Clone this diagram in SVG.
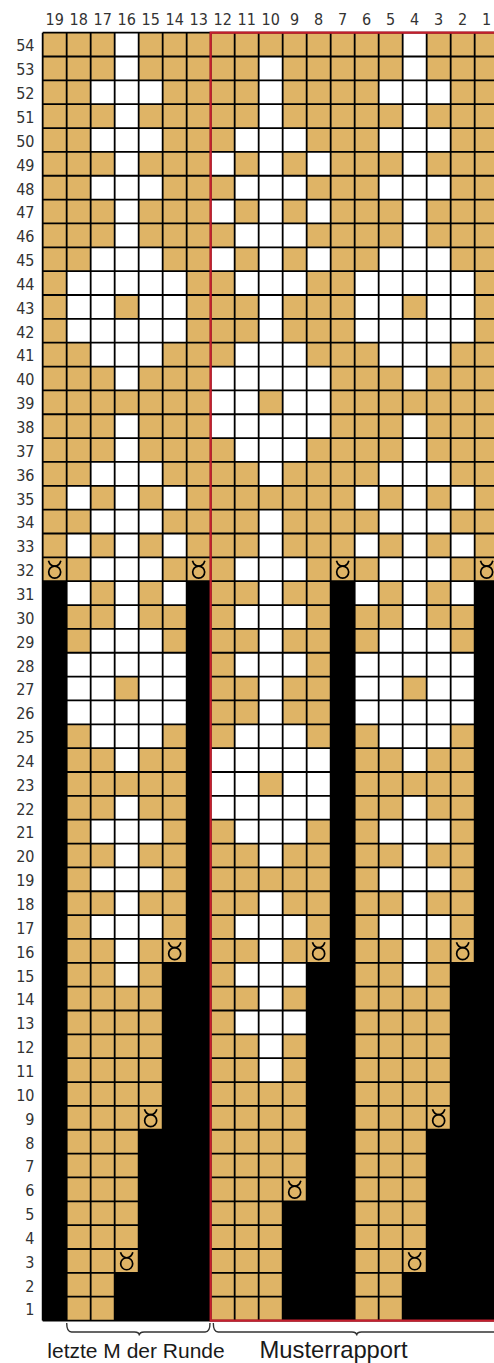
<svg xmlns="http://www.w3.org/2000/svg" xmlns:xlink="http://www.w3.org/1999/xlink" width="494" height="1363" viewBox="0 0 494 1363">
<style>
.lbl{font-family:"DejaVu Sans Condensed","DejaVu Sans",sans-serif;font-size:16px;fill:#333}
.cl{text-anchor:middle}
.rl{text-anchor:end}
.cap{font-family:"Liberation Sans",Arial,sans-serif;fill:#1a1a1a}
.gold{fill:#DFB466}
.wh{fill:#fff}
.blk{fill:#000}
.ln{fill:none;stroke:#000;stroke-width:1.8}
.red{fill:none;stroke:#C51F2E;stroke-width:2.2}
.brace{fill:none;stroke:#333;stroke-width:1.4}
.sym{fill:none;stroke:#000;stroke-width:1.7}
</style>
<defs>
<g id="m1" class="sym"><circle cx="0" cy="2.8" r="6"/><path d="M-6.2,-8.6 Q-4.6,-3.4 0,-3.2 Q4.6,-3.4 6.2,-8.6"/></g>
</defs>
<g id="col-labels" class="lbl cl">
<text x="54.67" y="24.5">19</text><text x="78.67" y="24.5">18</text><text x="102.67" y="24.5">17</text><text x="126.67" y="24.5">16</text><text x="150.67" y="24.5">15</text><text x="174.67" y="24.5">14</text><text x="198.67" y="24.5">13</text><text x="222.67" y="24.5">12</text><text x="246.67" y="24.5">11</text><text x="270.67" y="24.5">10</text><text x="294.67" y="24.5">9</text><text x="318.67" y="24.5">8</text><text x="342.67" y="24.5">7</text><text x="366.67" y="24.5">6</text><text x="390.67" y="24.5">5</text><text x="414.67" y="24.5">4</text><text x="438.67" y="24.5">3</text><text x="462.67" y="24.5">2</text><text x="486.67" y="24.5">1</text>
</g>
<g id="row-labels" class="lbl rl">
<text x="34.5" y="51.4">54</text><text x="34.5" y="75.25">53</text><text x="34.5" y="99.1">52</text><text x="34.5" y="122.95">51</text><text x="34.5" y="146.8">50</text><text x="34.5" y="170.65">49</text><text x="34.5" y="194.5">48</text><text x="34.5" y="218.35">47</text><text x="34.5" y="242.2">46</text><text x="34.5" y="266.05">45</text><text x="34.5" y="289.9">44</text><text x="34.5" y="313.75">43</text><text x="34.5" y="337.6">42</text><text x="34.5" y="361.45">41</text><text x="34.5" y="385.3">40</text><text x="34.5" y="409.15">39</text><text x="34.5" y="433">38</text><text x="34.5" y="456.85">37</text><text x="34.5" y="480.7">36</text><text x="34.5" y="504.55">35</text><text x="34.5" y="528.4">34</text><text x="34.5" y="552.25">33</text><text x="34.5" y="576.1">32</text><text x="34.5" y="599.95">31</text><text x="34.5" y="623.8">30</text><text x="34.5" y="647.65">29</text><text x="34.5" y="671.5">28</text><text x="34.5" y="695.35">27</text><text x="34.5" y="719.2">26</text><text x="34.5" y="743.05">25</text><text x="34.5" y="766.9">24</text><text x="34.5" y="790.75">23</text><text x="34.5" y="814.6">22</text><text x="34.5" y="838.45">21</text><text x="34.5" y="862.3">20</text><text x="34.5" y="886.15">19</text><text x="34.5" y="910">18</text><text x="34.5" y="933.85">17</text><text x="34.5" y="957.7">16</text><text x="34.5" y="981.55">15</text><text x="34.5" y="1005.4">14</text><text x="34.5" y="1029.25">13</text><text x="34.5" y="1053.1">12</text><text x="34.5" y="1076.95">11</text><text x="34.5" y="1100.8">10</text><text x="34.5" y="1124.65">9</text><text x="34.5" y="1148.5">8</text><text x="34.5" y="1172.35">7</text><text x="34.5" y="1196.2">6</text><text x="34.5" y="1220.05">5</text><text x="34.5" y="1243.9">4</text><text x="34.5" y="1267.75">3</text><text x="34.5" y="1291.6">2</text><text x="34.5" y="1315.45">1</text>
</g>
<g id="chart" transform="translate(42.67 32.67) scale(24 23.85)">
<rect id="background" class="gold" x="0" y="0" width="19" height="54"/>
<g id="white-cells" class="wh">
<rect x="3" y="0" width="1" height="1"/><rect x="15" y="0" width="1" height="1"/>
<rect x="3" y="1" width="1" height="1"/><rect x="9" y="1" width="1" height="1"/><rect x="15" y="1" width="1" height="1"/>
<rect x="2" y="2" width="3" height="1"/><rect x="9" y="2" width="1" height="1"/><rect x="14" y="2" width="3" height="1"/>
<rect x="3" y="3" width="1" height="1"/><rect x="9" y="3" width="1" height="1"/><rect x="15" y="3" width="1" height="1"/>
<rect x="2" y="4" width="3" height="1"/><rect x="8" y="4" width="3" height="1"/><rect x="14" y="4" width="3" height="1"/>
<rect x="3" y="5" width="1" height="1"/><rect x="7" y="5" width="1" height="1"/><rect x="9" y="5" width="1" height="1"/><rect x="11" y="5" width="1" height="1"/><rect x="15" y="5" width="1" height="1"/>
<rect x="2" y="6" width="3" height="1"/><rect x="8" y="6" width="3" height="1"/><rect x="14" y="6" width="3" height="1"/>
<rect x="3" y="7" width="1" height="1"/><rect x="7" y="7" width="1" height="1"/><rect x="9" y="7" width="1" height="1"/><rect x="11" y="7" width="1" height="1"/><rect x="15" y="7" width="1" height="1"/>
<rect x="3" y="8" width="1" height="1"/><rect x="8" y="8" width="3" height="1"/><rect x="15" y="8" width="1" height="1"/>
<rect x="2" y="9" width="3" height="1"/><rect x="7" y="9" width="1" height="1"/><rect x="9" y="9" width="1" height="1"/><rect x="11" y="9" width="1" height="1"/><rect x="14" y="9" width="3" height="1"/>
<rect x="1" y="10" width="5" height="1"/><rect x="8" y="10" width="3" height="1"/><rect x="13" y="10" width="5" height="1"/>
<rect x="1" y="11" width="2" height="1"/><rect x="4" y="11" width="2" height="1"/><rect x="9" y="11" width="1" height="1"/><rect x="13" y="11" width="2" height="1"/><rect x="16" y="11" width="2" height="1"/>
<rect x="1" y="12" width="5" height="1"/><rect x="9" y="12" width="1" height="1"/><rect x="13" y="12" width="5" height="1"/>
<rect x="2" y="13" width="3" height="1"/><rect x="8" y="13" width="3" height="1"/><rect x="14" y="13" width="3" height="1"/>
<rect x="3" y="14" width="1" height="1"/><rect x="7" y="14" width="5" height="1"/><rect x="15" y="14" width="1" height="1"/>
<rect x="7" y="15" width="2" height="1"/><rect x="10" y="15" width="2" height="1"/>
<rect x="3" y="16" width="1" height="1"/><rect x="7" y="16" width="5" height="1"/><rect x="15" y="16" width="1" height="1"/>
<rect x="3" y="17" width="1" height="1"/><rect x="8" y="17" width="3" height="1"/><rect x="15" y="17" width="1" height="1"/>
<rect x="2" y="18" width="3" height="1"/><rect x="9" y="18" width="1" height="1"/><rect x="14" y="18" width="3" height="1"/>
<rect x="1" y="19" width="1" height="1"/><rect x="3" y="19" width="1" height="1"/><rect x="5" y="19" width="1" height="1"/><rect x="13" y="19" width="1" height="1"/><rect x="15" y="19" width="1" height="1"/><rect x="17" y="19" width="1" height="1"/>
<rect x="2" y="20" width="3" height="1"/><rect x="9" y="20" width="1" height="1"/><rect x="14" y="20" width="3" height="1"/>
<rect x="1" y="21" width="1" height="1"/><rect x="3" y="21" width="1" height="1"/><rect x="5" y="21" width="1" height="1"/><rect x="9" y="21" width="1" height="1"/><rect x="13" y="21" width="1" height="1"/><rect x="15" y="21" width="1" height="1"/><rect x="17" y="21" width="1" height="1"/>
<rect x="2" y="22" width="3" height="1"/><rect x="8" y="22" width="3" height="1"/><rect x="14" y="22" width="3" height="1"/>
<rect x="1" y="23" width="1" height="1"/><rect x="3" y="23" width="1" height="1"/><rect x="5" y="23" width="1" height="1"/><rect x="9" y="23" width="1" height="1"/><rect x="13" y="23" width="1" height="1"/><rect x="15" y="23" width="1" height="1"/><rect x="17" y="23" width="1" height="1"/>
<rect x="3" y="24" width="1" height="1"/><rect x="8" y="24" width="3" height="1"/><rect x="15" y="24" width="1" height="1"/>
<rect x="2" y="25" width="3" height="1"/><rect x="9" y="25" width="1" height="1"/><rect x="14" y="25" width="3" height="1"/>
<rect x="1" y="26" width="5" height="1"/><rect x="8" y="26" width="3" height="1"/><rect x="13" y="26" width="5" height="1"/>
<rect x="1" y="27" width="2" height="1"/><rect x="4" y="27" width="2" height="1"/><rect x="9" y="27" width="1" height="1"/><rect x="13" y="27" width="2" height="1"/><rect x="16" y="27" width="2" height="1"/>
<rect x="1" y="28" width="5" height="1"/><rect x="9" y="28" width="1" height="1"/><rect x="13" y="28" width="5" height="1"/>
<rect x="2" y="29" width="3" height="1"/><rect x="8" y="29" width="3" height="1"/><rect x="14" y="29" width="3" height="1"/>
<rect x="3" y="30" width="1" height="1"/><rect x="7" y="30" width="5" height="1"/><rect x="15" y="30" width="1" height="1"/>
<rect x="7" y="31" width="2" height="1"/><rect x="10" y="31" width="2" height="1"/>
<rect x="3" y="32" width="1" height="1"/><rect x="7" y="32" width="5" height="1"/><rect x="15" y="32" width="1" height="1"/>
<rect x="2" y="33" width="3" height="1"/><rect x="8" y="33" width="3" height="1"/><rect x="14" y="33" width="3" height="1"/>
<rect x="3" y="34" width="1" height="1"/><rect x="9" y="34" width="1" height="1"/><rect x="15" y="34" width="1" height="1"/>
<rect x="2" y="35" width="3" height="1"/><rect x="14" y="35" width="3" height="1"/>
<rect x="3" y="36" width="1" height="1"/><rect x="9" y="36" width="1" height="1"/><rect x="15" y="36" width="1" height="1"/>
<rect x="2" y="37" width="3" height="1"/><rect x="8" y="37" width="3" height="1"/><rect x="14" y="37" width="3" height="1"/>
<rect x="3" y="38" width="1" height="1"/><rect x="9" y="38" width="1" height="1"/><rect x="15" y="38" width="1" height="1"/>
<rect x="3" y="39" width="1" height="1"/><rect x="8" y="39" width="3" height="1"/><rect x="15" y="39" width="1" height="1"/>
<rect x="9" y="40" width="1" height="1"/>
<rect x="8" y="41" width="3" height="1"/>
<rect x="9" y="42" width="1" height="1"/>
<rect x="9" y="43" width="1" height="1"/>
</g>
<path id="grid-lines" class="ln" vector-effect="non-scaling-stroke" d="M0 0V54M1 0V54M2 0V54M3 0V54M4 0V54M5 0V54M6 0V54M7 0V54M8 0V54M9 0V54M10 0V54M11 0V54M12 0V54M13 0V54M14 0V54M15 0V54M16 0V54M17 0V54M18 0V54M19 0V54M0 0H19M0 1H19M0 2H19M0 3H19M0 4H19M0 5H19M0 6H19M0 7H19M0 8H19M0 9H19M0 10H19M0 11H19M0 12H19M0 13H19M0 14H19M0 15H19M0 16H19M0 17H19M0 18H19M0 19H19M0 20H19M0 21H19M0 22H19M0 23H19M0 24H19M0 25H19M0 26H19M0 27H19M0 28H19M0 29H19M0 30H19M0 31H19M0 32H19M0 33H19M0 34H19M0 35H19M0 36H19M0 37H19M0 38H19M0 39H19M0 40H19M0 41H19M0 42H19M0 43H19M0 44H19M0 45H19M0 46H19M0 47H19M0 48H19M0 49H19M0 50H19M0 51H19M0 52H19M0 53H19M0 54H19"/>
<g id="no-stitch" class="blk">
<rect x="0" y="23" width="1" height="31"/>
<rect x="3" y="52" width="1" height="2"/>
<rect x="4" y="46" width="1" height="8"/>
<rect x="5" y="39" width="1" height="15"/>
<rect x="6" y="23" width="1" height="31"/>
<rect x="10" y="49" width="1" height="5"/>
<rect x="11" y="39" width="1" height="15"/>
<rect x="12" y="23" width="1" height="31"/>
<rect x="15" y="52" width="1" height="2"/>
<rect x="16" y="46" width="1" height="8"/>
<rect x="17" y="39" width="1" height="15"/>
<rect x="18" y="23" width="1" height="31"/>
</g>
<rect id="repeat-frame" class="red" vector-effect="non-scaling-stroke" x="7" y="0" width="12" height="54"/>
</g>
<g id="increase-symbols">
<use xlink:href="#m1" x="54.67" y="569.3"/><use xlink:href="#m1" x="198.67" y="569.3"/><use xlink:href="#m1" x="342.67" y="569.3"/><use xlink:href="#m1" x="486.67" y="569.3"/>
<use xlink:href="#m1" x="174.67" y="950.9"/><use xlink:href="#m1" x="318.67" y="950.9"/><use xlink:href="#m1" x="462.67" y="950.9"/>
<use xlink:href="#m1" x="150.67" y="1117.85"/><use xlink:href="#m1" x="438.67" y="1117.85"/>
<use xlink:href="#m1" x="294.67" y="1189.4"/>
<use xlink:href="#m1" x="126.67" y="1260.95"/><use xlink:href="#m1" x="414.67" y="1260.95"/>
</g>
<g id="connectors">
<path class="brace" d="M66.7,1323 Q66.7,1332 71.5,1332 L134.5,1332 Q139.3,1332 139.3,1335.5 Q139.3,1332 144.1,1332 L205.2,1332 Q210,1332 210,1323"/>
<path class="brace" d="M213.3,1323 Q213.3,1332 218.1,1332 L351.9,1332 Q356.7,1332 356.7,1335.5 Q356.7,1332 361.5,1332 L495.2,1332 Q500,1332 500,1323"/>
</g>
<g id="label-last" class="cap"><text x="47.3" y="1358" font-size="21">letzte M der Runde</text></g>
<g id="label-repeat" class="cap"><text x="259.5" y="1357.5" font-size="23.8">Musterrapport</text></g>
</svg>
